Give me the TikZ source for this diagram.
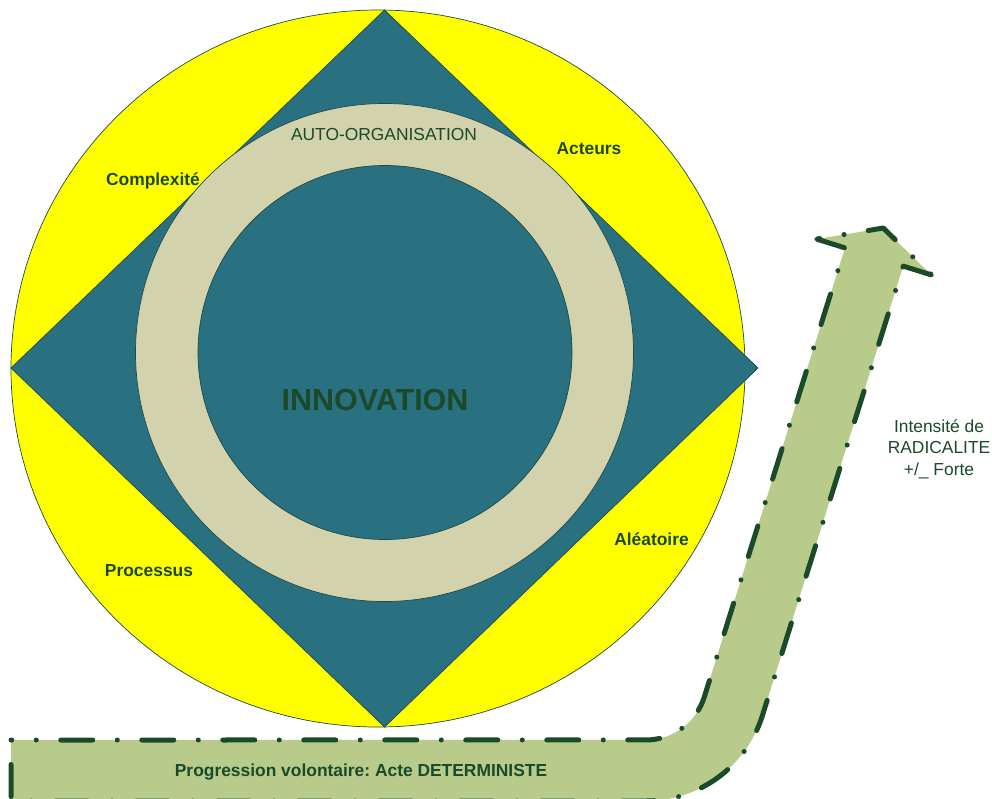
\documentclass[tikz,border=0pt]{standalone}
\usepackage{fontspec}
\setmainfont{Liberation Sans}
\definecolor{cyellow}{HTML}{FFFF00}
\definecolor{cteal}{HTML}{297080}
\definecolor{cbeige}{HTML}{D2D2AD}
\definecolor{carrow}{HTML}{B8CB8A}
\definecolor{cdark}{HTML}{1A4A2A}
\definecolor{cline}{HTML}{1F4A45}
\frenchspacing
\begin{document}
\begin{tikzpicture}[x=1pt,y=-1pt,
  shapeline/.style={draw=cline, line width=0.7pt},
  lbl/.style={font=\fontsize{17.4}{21.5}\selectfont\bfseries, text=cdark, inner sep=0pt, anchor=base},
  plain/.style={font=\fontsize{17.4}{21.5}\selectfont, text=cdark, inner sep=0pt, anchor=base},
  dashline/.style={draw=cdark, line width=5pt, line cap=round, line join=round,
    dash pattern=on 0pt off 24.5pt on 32pt off 24.5pt}]
\useasboundingbox (0,0) rectangle (992,798);
\clip (0,0) rectangle (992,798);
% outer yellow disc
\path[fill=cyellow, shapeline] (378,368.5) ellipse [x radius=367, y radius=358.5];
% diamond
\path[fill=cteal, shapeline] (384.5,10) -- (758,368) -- (384.5,727) -- (11,368) -- cycle;
% ring
\path[fill=cbeige, shapeline] (384.5,352.5) circle [radius=249];
\path[fill=cteal, shapeline] (385,352.5) circle [radius=187];
% bent arrow
\path[fill=carrow] (11,740) -- (11,801) -- (646,801)
  arc[start angle=90, end angle=17.4, radius=122]
  -- (903.2,266.1) -- (931.4,274.9) -- (883.2,228) -- (816.8,239.1) -- (845.0,247.9)
  -- (704.2,697.2) arc[start angle=17.4, end angle=90, radius=61]
  -- cycle;
\path[dashline] (11,740) -- (11,801) -- (646,801)
  arc[start angle=90, end angle=17.4, radius=122]
  -- (903.2,266.1) -- (931.4,274.9) -- (883.2,228) -- (816.8,239.1) -- (845.0,247.9)
  -- (704.2,697.2) arc[start angle=17.4, end angle=90, radius=61]
  -- cycle;
% labels
\node[lbl] (complexite) at (153,185.5) {Complexité};
\node[lbl] (acteurs) at (589,154) {Acteurs};
\node[lbl] (processus) at (149,576.5) {Processus};
\node[lbl] (aleatoire) at (651.5,545) {Aléatoire};
\node[plain] (autoorg) at (384,140) {AUTO-ORGANISATION};
\node[lbl, font=\fontsize{30.5}{36}\selectfont\bfseries] (innovation) at (375,410) {INNOVATION};
\node[lbl] (progression) at (361,776.5) {Progression volontaire: Acte DETERMINISTE};
\node[plain, align=center, anchor=base] (intensite) at (939,475) {Intensité de\\RADICALITE\\+/\_ Forte};
\end{tikzpicture}
\end{document}
